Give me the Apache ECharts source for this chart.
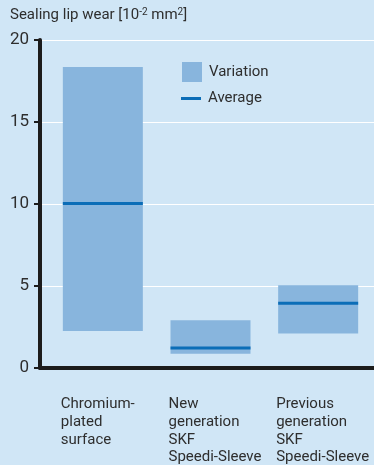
<!DOCTYPE html>
<html>
<head>
<meta charset="utf-8">
<script src="https://cdn.jsdelivr.net/npm/echarts@6/dist/echarts.min.js"></script>
<style>
html,body{margin:0;padding:0;background:#d0e6f6;}
#c{width:374px;height:465px;}
</style>
</head>
<body>
<div id="c"></div>
<script>
var categories = ['Chromium-\nplated\nsurface', 'New\ngeneration\nSKF\nSpeedi-Sleeve', 'Previous\ngeneration\nSKF\nSpeedi-Sleeve'];
var variationLow = [2.2, 0.8, 2.05];
var variationHigh = [18.35, 2.85, 5.0];
var averageValues = [10.0, 1.15, 3.9];
var yTicks = [0, 5, 10, 15, 20];

var FONT = 'Roboto';
var TXT = '#2e2e2e';

var chart = echarts.init(document.getElementById('c'), null, {renderer: 'canvas'});
var option = {
  backgroundColor: '#d0e6f6',
  animation: false,
  textStyle: {fontFamily: FONT},
  title: {
    left: 10, top: 7, padding: 0,
    text: '{n|Sealing lip wear [10}{s|-2}{n| mm}{s|2}{n|]}',
    textStyle: {
      fontWeight: 'normal',
      rich: {
        n: {fontSize: 15, color: TXT, fontFamily: FONT, fontWeight: 'normal'},
        s: {fontSize: 10, color: TXT, fontFamily: FONT, fontWeight: 'normal', verticalAlign: 'top', padding: [0, 0, 6, 0]}
      }
    }
  },
  legend: [
    {
      left: 182, top: 62, orient: 'vertical', padding: 0,
      itemWidth: 20, itemHeight: 20, icon: 'rect',
      data: ['Variation'],
      textStyle: {fontSize: 15, color: TXT, fontFamily: FONT, padding: [2, 0, 0, 2]},
      selectedMode: false
    },
    {
      left: 181, top: 91, orient: 'vertical', padding: 0,
      itemWidth: 20, itemHeight: 3, icon: 'rect',
      data: ['Average'],
      textStyle: {fontSize: 15, color: TXT, fontFamily: FONT, padding: [2, 0, 0, 2]},
      selectedMode: false
    }
  ],
  grid: [
    {left: 49, right: 2, top: 40, bottom: 97},
    {left: 40, right: 0, top: 40, bottom: 97}
  ],
  xAxis: [
    {
      type: 'category', gridIndex: 0, data: categories,
      axisLine: {show: false}, axisTick: {show: false},
      axisLabel: {
        interval: 0, margin: 29, align: 'center', verticalAlign: 'top',
        formatter: function (v) { return '{a|' + v + '}'; },
        rich: {a: {width: 84, align: 'left', fontSize: 15, lineHeight: 17.6, color: TXT, fontFamily: FONT}}
      }
    },
    {
      type: 'value', gridIndex: 1, min: 0, max: 1,
      axisLine: {show: true, lineStyle: {color: '#1c1c1c', width: 4}},
      axisTick: {show: false}, axisLabel: {show: false}, splitLine: {show: false}
    }
  ],
  yAxis: [
    {
      type: 'value', gridIndex: 0, min: 0, max: 20, interval: 5,
      show: false
    },
    {
      type: 'value', gridIndex: 1, min: 0, max: 20, interval: 5,
      axisLine: {show: true, lineStyle: {color: '#1c1c1c', width: 4}},
      axisTick: {show: true, length: 6, lineStyle: {color: '#1c1c1c', width: 2}},
      axisLabel: {margin: 11, fontSize: 17, color: TXT, fontFamily: FONT,
        formatter: function (v) { return yTicks.indexOf(v) >= 0 ? String(v) : ''; }},
      splitLine: {show: true, lineStyle: {color: '#ffffff', width: 1}}
    }
  ],
  series: [
    {
      name: 'base', type: 'bar', stack: 'v', xAxisIndex: 0, yAxisIndex: 0,
      barWidth: 80, data: variationLow,
      itemStyle: {color: 'rgba(0,0,0,0)'}, silent: true
    },
    {
      name: 'Variation', type: 'bar', stack: 'v', xAxisIndex: 0, yAxisIndex: 0,
      barWidth: 80,
      data: variationHigh.map(function (h, i) { return h - variationLow[i]; }),
      itemStyle: {color: '#88b5dd'}
    },
    {
      name: 'Average', type: 'scatter', xAxisIndex: 0, yAxisIndex: 0,
      symbol: 'rect', symbolSize: [80, 3], z: 5,
      data: averageValues,
      itemStyle: {color: '#0b6db7', opacity: 1}
    }
  ]
};
chart.setOption(option);
</script>
</body>
</html>
